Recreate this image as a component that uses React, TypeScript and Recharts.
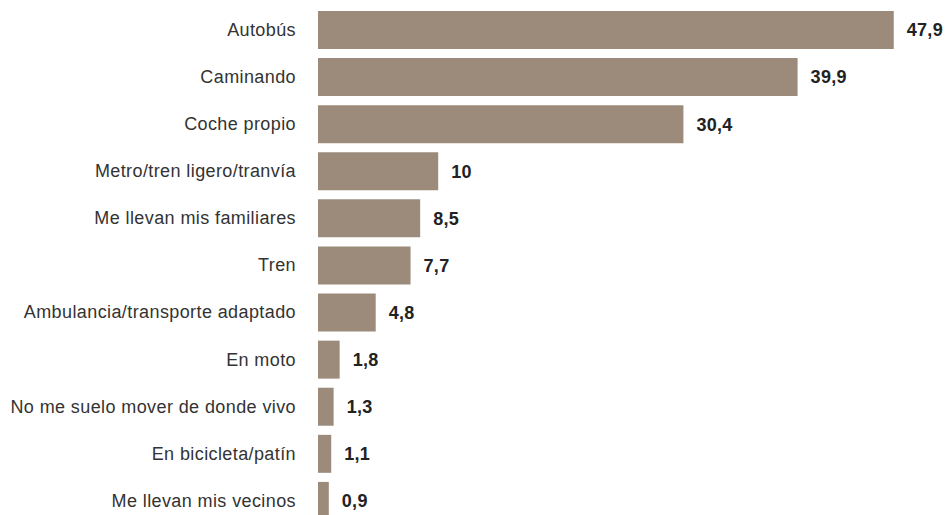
import React from "react";
import { BarChart, Bar, XAxis, YAxis, LabelList } from "recharts";

const categories = [
  "Autobús",
  "Caminando",
  "Coche propio",
  "Metro/tren ligero/tranvía",
  "Me llevan mis familiares",
  "Tren",
  "Ambulancia/transporte adaptado",
  "En moto",
  "No me suelo mover de donde vivo",
  "En bicicleta/patín",
  "Me llevan mis vecinos",
];
const values = [47.9, 39.9, 30.4, 10, 8.5, 7.7, 4.8, 1.8, 1.3, 1.1, 0.9];

const data = categories.map((name, i) => ({ name, value: values[i] }));

const FONT = "'Liberation Sans', Arial, Helvetica, sans-serif";
const fmt = (v: any) => String(v).replace(".", ",");

export default function App() {
  return (
    <div
      style={{
        position: "absolute",
        left: 0,
        top: 0,
        width: 947,
        height: 515,
        overflow: "hidden",
        background: "#fff",
      }}
    >
      <BarChart
        width={947}
        height={524}
        data={data}
        layout="vertical"
        margin={{ top: 6, right: 28, bottom: 0, left: 0 }}
        barSize={38}
      >
        <XAxis type="number" domain={[0, 50]} hide />
        <YAxis
          type="category"
          dataKey="name"
          width={318}
          axisLine={false}
          tickLine={false}
          tickSize={0}
          tickMargin={22}
          interval={0}
          tick={{ fill: "#333", fontSize: 18, fontFamily: FONT, letterSpacing: 0.4 }}
        />
        <Bar dataKey="value" fill="#9c8b7b" isAnimationActive={false}>
          <LabelList
            dataKey="value"
            position="right"
            offset={13}
            formatter={fmt}
            style={{ fill: "#222", fontSize: 18, fontWeight: "bold", fontFamily: FONT, letterSpacing: 0.3 }}
          />
        </Bar>
      </BarChart>
    </div>
  );
}
